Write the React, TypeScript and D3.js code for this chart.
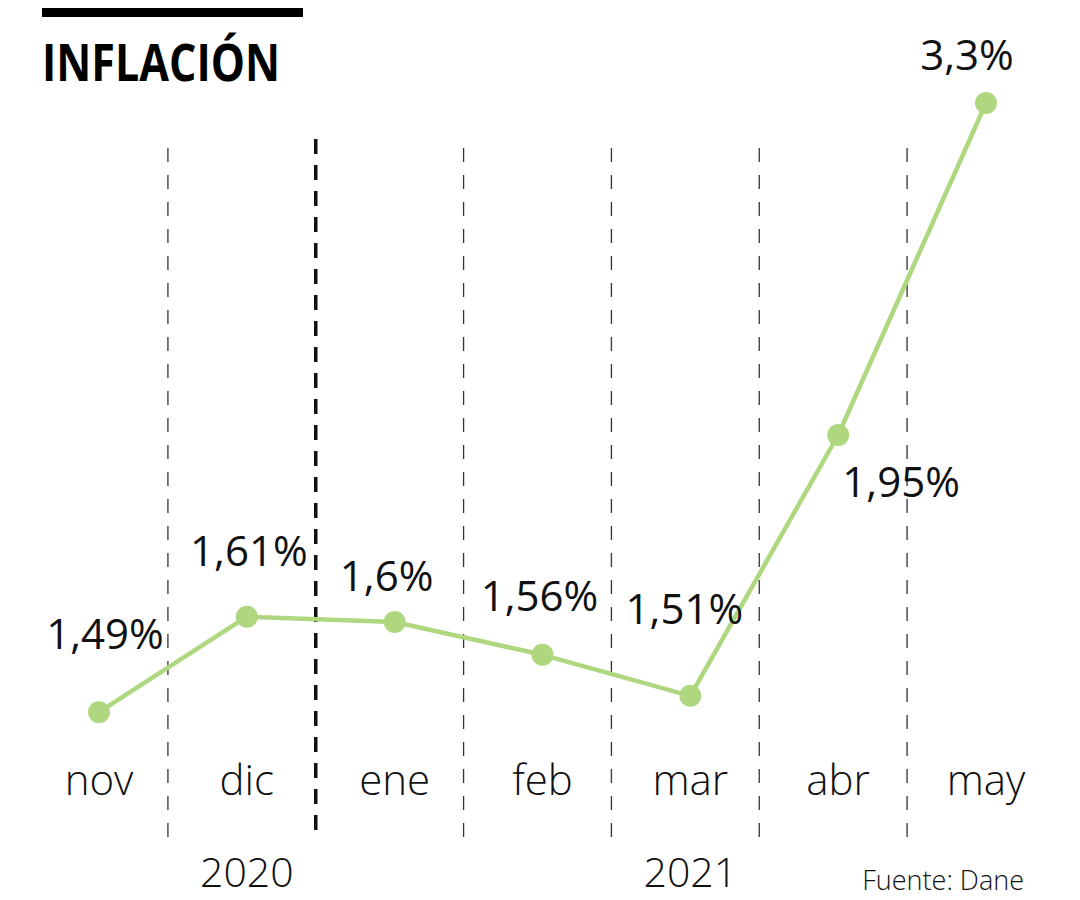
import React from "react";
import * as d3 from "d3";

const months = ["nov", "dic", "ene", "feb", "mar", "abr", "may"];
const values = [1.49, 1.61, 1.6, 1.56, 1.51, 1.95, 3.3];
const valueLabels = ["1,49%", "1,61%", "1,6%", "1,56%", "1,51%", "1,95%", "3,3%"];
const years = [
  { label: "2020", month: "dic" },
  { label: "2021", month: "mar" },
];
// divider after this month is the year boundary (dic|ene)
const yearBoundaryAfter = "dic";

// layout nudges for value labels (dx, dy from the point)
const labelNudge: [number, number][] = [
  [6, -63],
  [2, -51],
  [-8, -31],
  [-3, -44],
  [-6, -72],
  [63, 62],
  [-19, -33],
];

const W = 1080;
const H = 900;
const GREEN = "#afd77f";
const FONT = "'Open Sans', 'Noto Sans', sans-serif";

export default function App() {
  const x = d3.scalePoint<string>().domain(months).range([99, 986]);
  // the infographic uses a non-uniform (piecewise) vertical axis
  const y = d3.scaleLinear().domain([1.5, 1.6, 1.95, 3.3]).range([704, 622, 435, 103]);

  const pts = months.map((m, i) => ({ m, v: values[i], x: x(m)!, y: y(values[i]) }));
  const line = d3
    .line<{ x: number; y: number }>()
    .x((d) => d.x)
    .y((d) => d.y);

  const step = x.step();
  const dividers = months.slice(0, -1).map((m) => ({
    m,
    x: x(m)! + step / 2 - 5,
    thick: m === yearBoundaryAfter,
  }));

  return (
    <svg width={W} height={H} style={{ display: "block", margin: "-8px" }} viewBox={`0 0 ${W} ${H}`}>
      <rect x={0} y={0} width={W} height={H} fill="#ffffff" />
      <rect x={42} y={7} width={261} height={10} fill="#000" />
      <text
        x={42}
        y={81}
        fontFamily={FONT}
        fontWeight={700}
        fontSize={52}
        textLength={238}
        lengthAdjust="spacingAndGlyphs"
        fill="#000"
      >
        INFLACIÓN
      </text>

      {dividers.map((d) => (
        <line
          key={d.m}
          x1={d.x}
          x2={d.x}
          y1={d.thick ? 139 : 148}
          y2={838}
          stroke={d.thick ? "#111" : "#333"}
          strokeWidth={d.thick ? 3.5 : 1.3}
          strokeDasharray={d.thick ? "15 11" : "14 13"}
        />
      ))}

      <path d={line(pts) || ""} fill="none" stroke={GREEN} strokeWidth={4.5} strokeLinejoin="round" />
      {pts.map((p) => (
        <circle key={p.m} cx={p.x} cy={p.y} r={11} fill={GREEN} />
      ))}

      {pts.map((p, i) => (
        <text
          key={"v" + p.m}
          x={p.x + labelNudge[i][0]}
          y={p.y + labelNudge[i][1]}
          textAnchor="middle"
          fontFamily={FONT}
          fontSize={42}
          fill="#111"
        >
          {valueLabels[i]}
        </text>
      ))}

      {months.map((m) => (
        <text
          key={"m" + m}
          x={x(m)!}
          y={795}
          textAnchor="middle"
          fontFamily={FONT}
          fontWeight={300}
          fontSize={42}
          fill="#111"
        >
          {m}
        </text>
      ))}

      {years.map((yr) => (
        <text
          key={yr.label}
          x={x(yr.month)!}
          y={887}
          textAnchor="middle"
          fontFamily={FONT}
          fontWeight={300}
          fontSize={41}
          fill="#111"
        >
          {yr.label}
        </text>
      ))}

      <text
        x={1024}
        y={890}
        textAnchor="end"
        fontFamily={FONT}
        fontWeight={300}
        fontSize={27}
        fill="#111"
      >
        Fuente: Dane
      </text>
    </svg>
  );
}
